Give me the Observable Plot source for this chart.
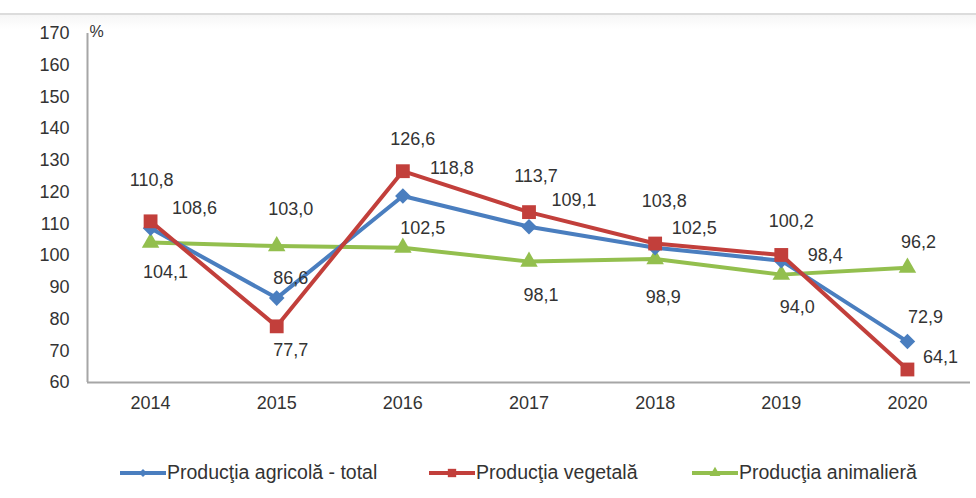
<!DOCTYPE html>
<html>
<head>
<meta charset="utf-8">
<script src="https://cdn.jsdelivr.net/npm/d3@7"></script>
<script src="https://cdn.jsdelivr.net/npm/@observablehq/plot@0.6"></script>
<style>
  html, body { margin: 0; padding: 0; background: #fff; }
  body { width: 976px; height: 498px; position: relative; overflow: hidden; font-family: "Liberation Sans", Arial, sans-serif; }
  #topline { position: absolute; left: 0; top: 13px; width: 976px; height: 2px; background: #dcdcdc; }
  #topshade { position: absolute; left: 0; top: 15px; width: 976px; height: 14px; background: linear-gradient(#f6f6f6, #fff); }
  #chart { position: absolute; left: 0; top: 0; }
  #legend { position: absolute; left: 0; top: 440px; width: 976px; height: 58px; }
  .item { position: absolute; top: 21px; display: flex; align-items: center; font-size: 19.5px; color: #333; white-space: nowrap; }
  .item svg { margin-right: 1px; }
</style>
</head>
<body>
<div id="topline"></div>
<div id="topshade"></div>
<div id="chart"></div>
<div id="legend"></div>
<script>
// ---- data ----
const years = [2014, 2015, 2016, 2017, 2018, 2019, 2020];
const total   = [108.6, 86.6, 118.8, 109.1, 102.5, 98.4, 72.9];
const vegetal = [110.8, 77.7, 126.6, 113.7, 103.8, 100.2, 64.1];
const animal  = [104.1, 103.0, 102.5, 98.1, 98.9, 94.0, 96.2];
const seriesNames = ["Producţia agricolă - total", "Producţia vegetală", "Producţia animalieră"];
const yTicks = [60, 70, 80, 90, 100, 110, 120, 130, 140, 150, 160, 170];
const unitLabel = "%";

// ---- styling / label placement (pixel offsets from each point) ----
const colors = ["#4a7ebf", "#c23f3b", "#93bf4e"];
const symbols = ["diamond2", "square", "triangle"];
const symbolR = [7, 7.8, 6.5];
const labelOffsets = [
  [[44,-20],[14,-20],[49,-28],[45,-26],[39,-19],[44,-5],[18,-24]],
  [[1,-41],[14,24],[10,-32],[7,-36],[9,-42],[10,-34],[33,-12]],
  [[15,30],[14,-37],[20,-19],[12,34],[8,38],[16,33],[11,-25]]
];

const seriesValues = [total, vegetal, animal];
const rows = [];
seriesValues.forEach((vals, s) => vals.forEach((v, i) => rows.push({series: seriesNames[s], s, year: years[i], i, value: v})));
const fmt = v => v.toFixed(1).replace(".", ",");

const drawOrder = [2, 0, 1];
const marks = [
  Plot.ruleY([60], {stroke: "#a6a6a6", strokeWidth: 2}),
  Plot.ruleX([2013.5], {y1: 60, y2: 170, stroke: "#a6a6a6", strokeWidth: 2}),
  Plot.axisY({ticks: yTicks, tickSize: 0, tickPadding: 18, fontSize: 18, label: null}),
  Plot.axisX({ticks: years, tickFormat: d => String(d), tickSize: 0, tickPadding: 14, fontSize: 18, label: null}),
  Plot.text([unitLabel], {frameAnchor: "top-left", dx: 2, dy: -8, fontSize: 16, fill: "#333", textAnchor: "start"})
];
for (const s of drawOrder) {
  const d = rows.filter(r => r.s === s);
  marks.push(Plot.line(d, {x: "year", y: "value", stroke: colors[s], strokeWidth: 4}));
  marks.push(Plot.dot(d, {x: "year", y: "value", symbol: () => symbols[s], r: symbolR[s], fill: colors[s], stroke: "none"}));
}
for (const r of rows) {
  const [dx, dy] = labelOffsets[r.s][r.i];
  marks.push(Plot.text([r], {x: "year", y: "value", text: d => fmt(d.value), dx, dy, fontSize: 18, fill: "#333"}));
}

const chart = Plot.plot({
  width: 976,
  height: 440,
  marginLeft: 87,
  marginRight: 6,
  marginTop: 33,
  marginBottom: 58,
  style: {fontFamily: "'Liberation Sans', Arial, sans-serif", color: "#333", background: "transparent"},
  x: {type: "linear", domain: [2013.5, 2020.5]},
  y: {domain: [60, 170]},
  symbol: {type: "identity"},
  marks
});
document.getElementById("chart").appendChild(chart);

// ---- legend ----
const legendLeft = [120, 429, 692];
const legend = d3.select("#legend");
seriesNames.forEach((name, s) => {
  const item = legend.append("div").attr("class", "item").style("left", legendLeft[s] + "px");
  const svg = item.append("svg").attr("width", 46).attr("height", 16);
  svg.append("line").attr("x1", 0).attr("x2", 46).attr("y1", 8).attr("y2", 8)
    .attr("stroke", colors[s]).attr("stroke-width", 4);
  const symType = [d3.symbolDiamond2, d3.symbolSquare, d3.symbolTriangle][s];
  svg.append("path").attr("transform", "translate(23,8)")
    .attr("d", d3.symbol(symType, [40, 70, 50][s])())
    .attr("fill", colors[s]);
  item.append("span").text(name);
});
</script>
</body>
</html>
